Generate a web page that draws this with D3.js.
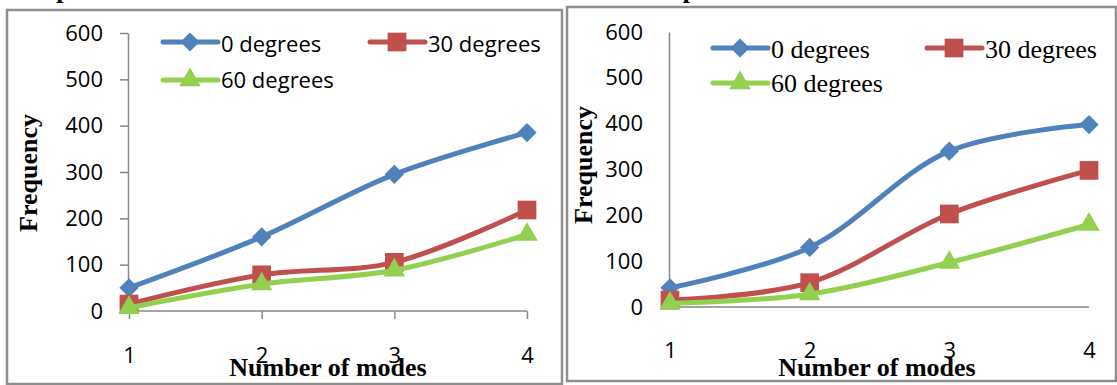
<!DOCTYPE html>
<html>
<head>
<meta charset="utf-8">
<script src="https://cdn.jsdelivr.net/npm/d3@7"></script>
<style>
  body { margin: 0; background: #fff; }
  svg { display: block; }
</style>
</head>
<body>
<div id="app"></div>
<script>
// chart values
let modes = [1, 2, 3, 4]
let yTicks = [0, 100, 200, 300, 400, 500, 600]
let seriesNames = ["0 degrees", "30 degrees", "60 degrees"]

let leftZero = [50, 160, 295, 385]
let leftThirty = [15, 78, 105, 218]
let leftSixty = [7, 58, 88, 165]

let rightZero = [42, 130, 340, 398]
let rightThirty = [15, 53, 203, 298]
let rightSixty = [8, 28, 97, 180]

let colors = ["#4f81bd", "#c0504d", "#92d050"]
let shapes = ["diamond", "square", "triangle"]

let width = 1117
let height = 385

let svg = d3.select("#app").append("svg")
    .attr("width", width)
    .attr("height", height)

// caption above, cut off by the page edge
svg.append("text")
    .attr("x", 0).attr("y", -2)
    .attr("textLength", 740)
    .attr("lengthAdjust", "spacingAndGlyphs")
    .style("font", "bold 22px 'Liberation Serif', serif")
    .text("Compels to scatter at different orientation with each mode plate")

// the two panels
let panels = [
  {
    box: [7, 10, 555, 374],
    x: [129, 527], y: [311, 33],
    ticks: 8, yPad: 17, xPad: 28,
    series: [leftZero, leftThirty, leftSixty],
    legendFont: "22px 'Open Sans', sans-serif",
    legend: [[163, 42, 52], [370, 42, 52], [163, 80, 88]],
    freq: [37, 173], modesTitle: [328, 376]
  },
  {
    box: [567, 7, 549, 374],
    x: [670, 1089], y: [307, 32],
    ticks: 0, yPad: 26, xPad: 35,
    series: [rightZero, rightThirty, rightSixty],
    legendFont: "26px 'Liberation Serif', serif",
    legend: [[713, 48, 58], [927, 48, 58], [713, 83, 92]],
    freq: [592, 165], modesTitle: [877, 376]
  }
]

function marker(sel, shape, color) {
  if (shape == "diamond") {
    sel.append("path")
        .attr("d", d3.symbol(d3.symbolSquare, 185)())
        .attr("transform", "rotate(45)")
        .attr("fill", color)
  } else if (shape == "square") {
    sel.append("path")
        .attr("d", d3.symbol(d3.symbolSquare, 350)())
        .attr("fill", color)
  } else {
    sel.append("path")
        .attr("d", d3.symbol(d3.symbolTriangle, 200)())
        .attr("fill", color)
  }
}

panels.forEach(p => {
  let g = svg.append("g")

  g.append("rect")
      .attr("x", p.box[0]).attr("y", p.box[1])
      .attr("width", p.box[2]).attr("height", p.box[3])
      .attr("fill", "none")
      .attr("stroke", "#8e8e8e")
      .attr("stroke-width", 2.5)

  let x = d3.scalePoint().domain(modes).range(p.x)
  let y = d3.scaleLinear().domain([0, 600]).range(p.y)

  let yAxis = g.append("g")
      .attr("transform", "translate(" + (p.x[0] - 1) + ",0)")
      .call(d3.axisLeft(y).tickValues(yTicks).tickSize(p.ticks).tickSizeOuter(0).tickPadding(p.yPad))
  let xAxis = g.append("g")
      .attr("transform", "translate(0," + p.y[0] + ")")
      .call(d3.axisBottom(x).tickSize(p.ticks).tickSizeOuter(0).tickPadding(p.xPad))

  g.selectAll(".domain, .tick line")
      .attr("stroke", "#868686")
      .attr("stroke-width", 1.5)
  g.selectAll(".tick text")
      .attr("fill", "#000")
      .style("font", "22px 'Open Sans', sans-serif")
  xAxis.select(".domain").attr("d", "M" + (p.x[0] - 1) + ",0H" + p.x[1])

  let line = d3.line()
      .x((d, i) => x(modes[i]))
      .y(d => y(d))
      .curve(d3.curveCatmullRom.alpha(0.5))

  p.series.forEach((vals, s) => {
    g.append("path")
        .attr("d", line(vals))
        .attr("fill", "none")
        .attr("stroke", colors[s])
        .attr("stroke-width", 5)
        .attr("stroke-linecap", "round")

    g.selectAll(null)
        .data(vals)
        .enter().append("g")
        .attr("transform", (d, i) => "translate(" + x(modes[i]) + "," + y(d) + ")")
        .each(function() { marker(d3.select(this), shapes[s], colors[s]) })
  })

  // legend
  p.legend.forEach((pos, s) => {
    let lg = g.append("g")
    lg.append("line")
        .attr("x1", pos[0]).attr("x2", pos[0] + 55)
        .attr("y1", pos[1]).attr("y2", pos[1])
        .attr("stroke", colors[s])
        .attr("stroke-width", 5)
        .attr("stroke-linecap", "round")
    marker(lg.append("g").attr("transform", "translate(" + (pos[0] + 27) + "," + pos[1] + ")"), shapes[s], colors[s])
    lg.append("text")
        .attr("x", pos[0] + 58).attr("y", pos[2])
        .style("font", p.legendFont)
        .text(seriesNames[s])
  })

  g.append("text")
      .attr("transform", "translate(" + p.freq[0] + "," + p.freq[1] + ") rotate(-90)")
      .attr("text-anchor", "middle")
      .style("font", "bold 26px 'Liberation Serif', serif")
      .text("Frequency")

  g.append("text")
      .attr("x", p.modesTitle[0]).attr("y", p.modesTitle[1])
      .attr("text-anchor", "middle")
      .style("font", "bold 26px 'Liberation Serif', serif")
      .text("Number of modes")
})
</script>
</body>
</html>
